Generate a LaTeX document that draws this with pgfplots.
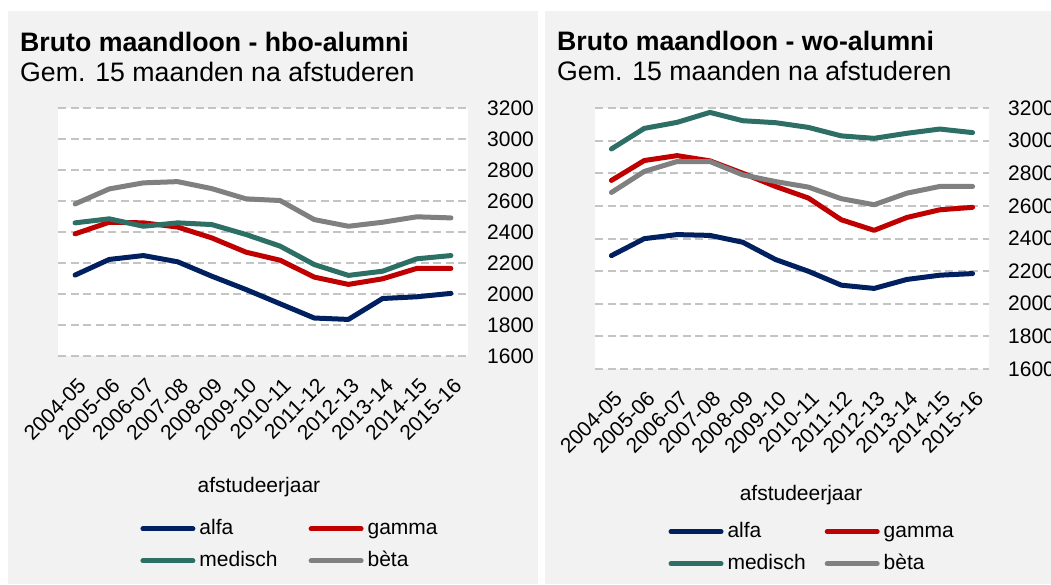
\documentclass[border=0pt]{standalone}
\usepackage{fontspec}
\setmainfont{Liberation Sans}
\usepackage{pgfplots}
\usepackage{pgfplotstable}
\pgfplotsset{compat=1.18}
\definecolor{alfa}{HTML}{002060}
\definecolor{gamma}{HTML}{C00000}
\definecolor{medisch}{HTML}{2E6F65}
\definecolor{beta}{HTML}{808080}
\definecolor{panel}{HTML}{F2F2F2}
\definecolor{gridc}{HTML}{C4C4C4}

\pgfplotstableread{
x alfa gamma medisch beta
0  2122 2388 2459 2581
1  2223 2463 2485 2678
2  2248 2459 2437 2717
3  2208 2432 2459 2725
4  2115 2362 2448 2680
5  2029 2270 2384 2614
6  1937 2218 2309 2603
7  1845 2109 2190 2480
8  1836 2062 2120 2437
9  1971 2098 2147 2463
10 1982 2165 2227 2498
11 2004 2165 2248 2491
}\hbo

\pgfplotstableread{
x alfa gamma medisch beta
0  2295 2756 2949 2682
1  2399 2878 3075 2811
2  2424 2908 3112 2872
3  2419 2876 3173 2872
4  2377 2800 3122 2790
5  2271 2719 3110 2749
6  2199 2648 3081 2715
7  2114 2515 3029 2644
8  2094 2450 3014 2607
9  2149 2529 3045 2678
10 2175 2576 3071 2719
11 2185 2591 3049 2719
}\wo

\newcommand{\fs}{\fontsize{21}{25}\selectfont}
\newcommand{\tfs}{\fontsize{26.7}{31}\selectfont}

\pgfplotsset{
  panelaxis/.style={
    scale only axis,
    xmin=-0.5, xmax=11.5,
    ymin=1600, ymax=3200,
    xtick={0,...,11},
    xticklabels={2004-05,2005-06,2006-07,2007-08,2008-09,2009-10,2010-11,2011-12,2012-13,2013-14,2014-15,2015-16},
    ytick={1600,1800,...,3200},
    axis line style={draw=none},
    major tick length=0pt,
    ymajorgrids=true,
    major grid style={draw=gridc, line width=2pt, dash pattern=on 8pt off 4.5pt},
    axis background/.style={fill=white},
    yticklabel pos=right,
    ticklabel style={font=\fs},
    /pgf/number format/assume math mode=true,
    /pgf/number format/1000 sep={},
    yticklabel style={anchor=west, inner sep=0pt, xshift=19pt},
    xticklabel style={inner sep=0pt, xshift=7pt, yshift=-26pt, rotate=45, anchor=east},
    xlabel={afstudeerjaar},
    xlabel style={font=\fs, anchor=center, inner sep=0pt},
    legend columns=2,
    legend cell align=left,
    legend image code/.code={\draw[#1, line width=5pt, line cap=round] (0pt,0pt) -- (50pt,0pt);},
    legend style={draw=none, fill=none, inner sep=0pt, outer sep=0pt, font=\fs, anchor=north west, row sep=7pt,
      nodes={inner xsep=4pt, inner ysep=3pt, text height=15pt, text depth=4pt}},
    every axis plot/.append style={line width=5pt, line join=round, line cap=round},
  }
}

\begin{document}
\begin{tikzpicture}
\useasboundingbox (0pt,0pt) rectangle (1051pt,584pt);
\fill[white] (0pt,0pt) rectangle (1051pt,584pt);
\fill[panel] (8pt,0pt) rectangle (538pt,573pt);
\fill[panel] (545pt,0pt) rectangle (1051pt,573pt);

\node[anchor=base west, inner sep=0pt, font=\bfseries\tfs] at (20pt,532pt) {Bruto maandloon - hbo-alumni};
\node[anchor=base west, inner sep=0pt, font=\tfs] at (20pt,502pt) {Gem. 15 maanden na afstuderen};
\node[anchor=base west, inner sep=0pt, font=\bfseries\tfs] at (557pt,533pt) {Bruto maandloon - wo-alumni};
\node[anchor=base west, inner sep=0pt, font=\tfs] at (557pt,503pt) {Gem. 15 maanden na afstuderen};

\begin{axis}[panelaxis,
  at={(58pt,228pt)}, anchor=south west,
  width=410pt, height=248pt,
  xlabel style={at={(axis description cs:0.49,-0.528)}},
  legend style={at={(axis description cs:0.201,-0.647)}, /tikz/every even column/.append style={column sep=27pt}},
]
\addplot[alfa] table[x=x,y=alfa] {\hbo};
\addplot[gamma] table[x=x,y=gamma] {\hbo};
\addplot[medisch] table[x=x,y=medisch] {\hbo};
\addplot[beta] table[x=x,y=beta] {\hbo};
\legend{alfa,gamma,medisch,bèta}
\end{axis}

\begin{axis}[panelaxis,
  at={(595pt,215pt)}, anchor=south west,
  width=394pt, height=261pt,
  xlabel style={at={(axis description cs:0.523,-0.483)}},
  legend style={at={(axis description cs:0.1866,-0.575)}, /tikz/every even column/.append style={column sep=15pt}},
]
\addplot[alfa] table[x=x,y=alfa] {\wo};
\addplot[gamma] table[x=x,y=gamma] {\wo};
\addplot[medisch] table[x=x,y=medisch] {\wo};
\addplot[beta] table[x=x,y=beta] {\wo};
\legend{alfa,gamma,medisch,bèta}
\end{axis}
\end{tikzpicture}
\end{document}
